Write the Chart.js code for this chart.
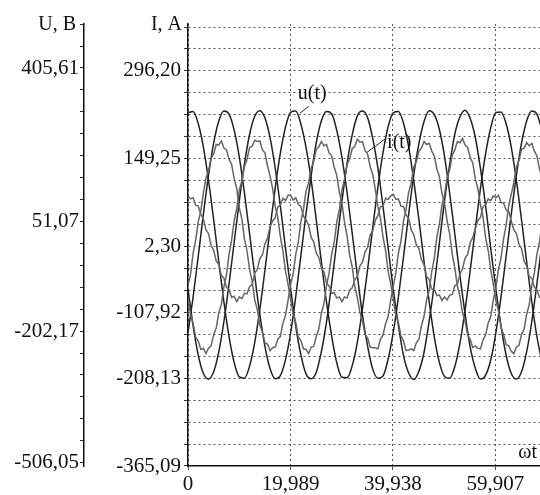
<!DOCTYPE html>
<html>
<head>
<meta charset="utf-8">
<script src="https://cdn.jsdelivr.net/npm/chart.js@4/dist/chart.umd.min.js"></script>
<style>
  body { margin: 0; background: #fff; }
  canvas { display: block; }
</style>
</head>
<body>
<canvas id="waveChart" width="540" height="495"></canvas>
<script>
// time axis for the voltages, ms
const times = [0,1,2,3,4,5,6,7,8,9,10,11,12,13,14,15,16,17,18,19,
  20,21,22,23,24,25,26,27,28,29,30,31,32,33,34,35,36,37,38,39,
  40,41,42,43,44,45,46,47,48,49,50,51,52,53,54,55,56,57,58,59,
  60,61,62,63,64,65,66,67,68,69];

// time axis for the currents (denser, they are noisy), ms
const currentTimes = [0,0.5,1,1.5,2,2.5,3,3.5,4,4.5,5,5.5,6,6.5,7,7.5,8,8.5,9,9.5,
  10,10.5,11,11.5,12,12.5,13,13.5,14,14.5,15,15.5,16,16.5,17,17.5,18,18.5,19,19.5,
  20,20.5,21,21.5,22,22.5,23,23.5,24,24.5,25,25.5,26,26.5,27,27.5,28,28.5,29,29.5,
  30,30.5,31,31.5,32,32.5,33,33.5,34,34.5,35,35.5,36,36.5,37,37.5,38,38.5,39,39.5,
  40,40.5,41,41.5,42,42.5,43,43.5,44,44.5,45,45.5,46,46.5,47,47.5,48,48.5,49,49.5,
  50,50.5,51,51.5,52,52.5,53,53.5,54,54.5,55,55.5,56,56.5,57,57.5,58,58.5,59,59.5,
  60,60.5,61,61.5,62,62.5,63,63.5,64,64.5,65,65.5,66,66.5,67,67.5,68,68.5,69];

// phase voltages, V (left axis)
const uA = [302,305,277,223,146,55,-42,-135,-215,-275,-308,-311,-283,-229,-152,-61,36,129,209,269,
  303,306,276,222,147,54,-43,-136,-214,-276,-309,-310,-282,-228,-151,-60,37,130,210,270,
  302,305,278,224,145,56,-41,-134,-216,-275,-307,-311,-284,-230,-153,-62,35,128,208,268,
  303,304,277,223,146,55,-42,-135,-215,-274];
const uB = [-206,-123,-29,68,158,232,283,306,299,262,200,117,23,-74,-164,-238,-289,-312,-305,-268,
  -207,-122,-28,69,157,233,284,305,300,261,199,118,24,-73,-165,-237,-290,-311,-306,-267,
  -205,-124,-30,67,159,231,282,307,298,263,201,116,22,-75,-163,-239,-288,-313,-304,-269,
  -206,-123,-29,68,158,232,283,306,299,262];
const uC = [-105,-190,-258,-300,-313,-296,-250,-180,-93,3,99,184,252,294,307,290,244,174,87,-10,
  -104,-191,-257,-301,-312,-297,-249,-181,-92,4,98,185,251,295,306,291,243,175,86,-9,
  -106,-189,-259,-299,-314,-295,-251,-179,-94,2,100,183,253,293,308,289,245,173,88,-11,
  -105,-190,-258,-300,-313,-296,-250,-180,-93,3];

// phase currents, A (inner axis)
const iA = [-63,-44,-9,13,44,62,92,117,129,150,157,173,172,179,167,164,148,140,116,99,
  67,48,15,-5,-36,-56,-87,-103,-129,-141,-159,-161,-172,-167,-166,-153,-148,-126,-113,-88,
  -61,-43,-11,10,44,64,95,109,133,145,165,169,178,171,173,159,154,135,121,93,
  75,43,20,-12,-32,-64,-83,-108,-122,-145,-151,-166,-167,-167,-169,-153,-146,-127,-115,-88,
  -64,-42,-9,11,45,65,93,109,135,144,162,167,178,173,175,162,154,132,119,91,
  75,45,23,-11,-34,-64,-81,-109,-123,-146,-153,-167,-164,-168,-169,-154,-146,-126,-115,-87,
  -67,-36,-17,15,38,70,90,109,135,146,165,167,176,171,175,162,154,132,118];
const iB = [-83,-112,-127,-150,-156,-170,-168,-177,-168,-164,-145,-134,-109,-95,-65,-45,-11,13,45,66,
  97,112,136,148,168,170,180,178,179,164,159,137,120,99,69,51,19,-5,-39,-61,
  -86,-111,-125,-149,-155,-169,-170,-177,-166,-165,-148,-136,-109,-93,-63,-42,-11,10,43,64,
  97,114,139,149,166,170,182,177,178,163,157,136,123,98,69,50,19,-4,-39,-60,
  -85,-113,-125,-147,-156,-172,-171,-169,-172,-159,-153,-130,-115,-87,-71,-40,-17,18,40,72,
  89,117,131,155,164,178,176,183,172,168,151,142,115,99,72,51,17,-4,-37,-61,
  -89,-105,-133,-145,-162,-164,-173,-177,-166,-163,-145,-136,-111,-95,-63,-42,-11,10,42];
const iC = [87,82,84,71,70,56,48,30,24,4,-4,-22,-28,-46,-51,-66,-70,-83,-81,-90,
  -82,-85,-76,-77,-65,-61,-42,-36,-18,-12,7,16,36,45,51,68,72,83,79,88,
  88,80,84,73,69,53,47,38,18,10,-9,-16,-34,-40,-59,-64,-76,-75,-84,-82,
  -90,-82,-84,-71,-67,-53,-48,-30,-24,-7,1,22,28,46,54,69,70,83,81,87,
  90,81,82,70,69,55,50,30,22,5,-1,-20,-28,-48,-53,-69,-70,-80,-79,-88,
  -82,-87,-79,-78,-63,-61,-44,-35,-17,-11,9,17,33,46,51,69,72,82,79,87,
  84,88,76,75,63,61,45,30,24,6,-1,-22,-30,-48,-51,-66,-70,-83,-82];

// tick labels
const xTickValues = [0, 19.989, 39.938, 59.907];
const xTickLabels = ['0', '19,989', '39,938', '59,907'];
const uTickValues = [405.61, 51.07, -202.17, -506.05];
const uTickLabels = ['405,61', '51,07', '-202,17', '-506,05'];
const iTickValues = [296.20, 149.25, 2.30, -107.92, -208.13, -365.09];
const iTickLabels = ['296,20', '149,25', '2,30', '-107,92', '-208,13', '-365,09'];

const toPoints = (xs, vals) => vals.map((v, i) => ({x: xs[i], y: v}));
const serif = {family: '"Liberation Serif", "Times New Roman", serif', size: 21};

const labelFor = (value, values, labels, step) => {
    for (let i = 0; i < values.length; i++) {
        if (Math.abs(values[i] - value) < step / 2) return labels[i];
    }
    return '';
};

// step between minor marks on the voltage and current axes
const uStep = (uTickValues[0] - uTickValues[3]) / 18;
const iStep = (iTickValues[0] - iTickValues[2]) / 8;

const textPlugin = {
    id: 'texts',
    afterDraw(chart) {
        const {ctx, chartArea, scales} = chart;
        ctx.save();
        ctx.font = '20px "Liberation Serif", serif';
        ctx.fillStyle = '#111';
        ctx.textBaseline = 'middle';
        ctx.textAlign = 'right';
        ctx.fillText('U, B', scales.yU.right - 8, chartArea.top + 1);
        ctx.fillText('I, A', scales.yI.right - 6, chartArea.top + 1);
        ctx.fillText('ωt', chartArea.right - 3, chartArea.bottom - 13);

        ctx.textAlign = 'left';
        ctx.strokeStyle = '#222';
        ctx.lineWidth = 1;
        const ux = scales.x.getPixelForValue(21.8), uy = scales.yU.getPixelForValue(301);
        ctx.fillText('u(t)', ux - 2, uy - 20);
        ctx.beginPath(); ctx.moveTo(ux, uy); ctx.lineTo(ux + 9, uy - 7); ctx.stroke();
        const ix = scales.x.getPixelForValue(34.9), iy = scales.yI.getPixelForValue(160);
        ctx.fillText('i(t)', ix + 20, iy - 10);
        ctx.beginPath(); ctx.moveTo(ix, iy); ctx.lineTo(ix + 19, iy - 14); ctx.stroke();
        ctx.restore();
    }
};

const voltageStyle = {borderColor: '#222', borderWidth: 1.5, cubicInterpolationMode: 'monotone', yAxisID: 'yU'};
const currentStyle = {borderColor: '#666', borderWidth: 1.5, tension: 0, yAxisID: 'yI'};

const ctx = document.getElementById('waveChart').getContext('2d');
const waveChart = new Chart(ctx, {
    type: 'line',
    data: {
        datasets: [
            {label: 'iA', data: toPoints(currentTimes, iA), ...currentStyle},
            {label: 'iB', data: toPoints(currentTimes, iB), ...currentStyle},
            {label: 'iC', data: toPoints(currentTimes, iC), ...currentStyle},
            {label: 'uA', data: toPoints(times, uA), ...voltageStyle},
            {label: 'uB', data: toPoints(times, uB), ...voltageStyle},
            {label: 'uC', data: toPoints(times, uC), ...voltageStyle}
        ]
    },
    options: {
        responsive: false,
        animation: false,
        layout: {padding: {top: 24, right: 0, bottom: 0, left: 0}},
        elements: {point: {radius: 0}},
        plugins: {
            legend: {display: false},
            tooltip: {enabled: false}
        },
        scales: {
            x: {
                type: 'linear',
                min: 0,
                max: 68.6,
                afterBuildTicks: (scale) => { scale.ticks = xTickValues.map(v => ({value: v})); },
                afterFit: (scale) => { scale.height = 29; },
                ticks: {
                    autoSkip: false,
                    maxRotation: 0,
                    padding: 2,
                    color: '#111',
                    font: serif,
                    callback: (value, index) => xTickLabels[index]
                },
                grid: {color: '#555', lineWidth: 1, tickLength: 4, tickColor: '#555'},
                border: {color: '#111', width: 1.5, dash: [2, 3]}
            },
            yU: {
                position: 'left',
                weight: 2,
                min: -513.8,
                max: 507.25,
                afterBuildTicks: (scale) => {
                    const ticks = [];
                    for (let k = -2; k <= 18; k++) ticks.push({value: uTickValues[0] - k * uStep});
                    scale.ticks = ticks;
                },
                afterFit: (scale) => { scale.width = 84; },
                ticks: {
                    autoSkip: false,
                    padding: 1,
                    color: '#111',
                    font: serif,
                    callback: (value) => labelFor(value, uTickValues, uTickLabels, uStep)
                },
                grid: {drawOnChartArea: false, tickLength: 4, tickColor: '#222', lineWidth: 1},
                border: {color: '#111', width: 1.5}
            },
            yI: {
                position: 'left',
                weight: 1,
                min: -365.09,
                max: 374.7,
                afterBuildTicks: (scale) => {
                    const ticks = [];
                    for (let k = 0; k <= 20; k++) ticks.push({value: iTickValues[0] + (2 - k) * iStep});
                    scale.ticks = ticks;
                },
                afterFit: (scale) => { scale.width = 104; },
                ticks: {
                    autoSkip: false,
                    padding: 3,
                    color: '#111',
                    font: serif,
                    callback: (value) => labelFor(value, iTickValues, iTickLabels, iStep)
                },
                grid: {color: '#555', lineWidth: 1, tickLength: 4, tickColor: '#333'},
                border: {color: '#111', width: 1.5, dash: [2, 3]}
            }
        }
    },
    plugins: [textPlugin]
});
</script>
</body>
</html>
